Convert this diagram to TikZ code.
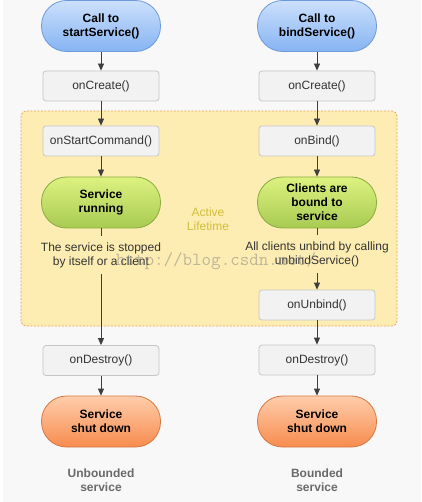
\documentclass[tikz,border=0pt]{standalone}
\usepackage{fontspec}
\setmainfont{Liberation Sans}
\usetikzlibrary{arrows.meta}
\definecolor{bg}{HTML}{F8F8F8}
\definecolor{boxfill}{HTML}{F2F2F2}
\definecolor{boxline}{HTML}{C6C6C6}
\definecolor{blueT}{HTML}{CCE0FC}
\definecolor{blueB}{HTML}{86B4F3}
\definecolor{blueE}{HTML}{6C9ADC}
\definecolor{greenT}{HTML}{DCF280}
\definecolor{greenB}{HTML}{A8CB52}
\definecolor{greenE}{HTML}{8AAB40}
\definecolor{orangeT}{HTML}{FFCDAB}
\definecolor{orangeB}{HTML}{F78C4E}
\definecolor{orangeE}{HTML}{D67842}
\definecolor{activeF}{HTML}{FEEDB2}
\definecolor{activeE}{HTML}{E4A460}
\definecolor{activeT}{HTML}{D2BE3C}
\definecolor{arrowc}{HTML}{3E3E3E}
\definecolor{note}{HTML}{333333}
\definecolor{kind}{HTML}{6A6A6A}
\tikzset{
  every picture/.style={line width=.8pt},
  txt/.style={font=\fontsize{12}{14}\selectfont,align=center},
  box/.style={txt,text=note,draw=boxline,fill=boxfill,rounded corners=3pt,
    minimum width=116pt,minimum height=30pt,inner sep=0pt},
  pill/.style n args={3}{txt,font=\fontsize{12}{14}\selectfont\bfseries,
    top color=#1,bottom color=#2,draw=#3,rounded corners=25pt,
    minimum width=119pt,minimum height=51pt,inner sep=0pt},
  blue pill/.style={pill={blueT}{blueB}{blueE}},
  green pill/.style={pill={greenT}{greenB}{greenE}},
  orange pill/.style={pill={orangeT}{orangeB}{orangeE}},
  flow/.style={draw=arrowc,-{Triangle[length=7pt,width=6pt]}},
  stub/.style={draw=arrowc},
}
\begin{document}
\begin{tikzpicture}[x=1pt,y=-1pt]
  \useasboundingbox (0,0) rectangle (421,502);
  \fill[white] (0,0) rectangle (421,502);
  \fill[bg] (3,0) rectangle (421,502);
  % active lifetime area
  \draw[activeE,fill=activeF,dash pattern=on 2pt off 1.5pt,rounded corners=5pt]
    (21,111) rectangle (397,326);
  \node[txt,text=activeT] (life) at (208,219) {Active\\Lifetime};

  % unbounded service
  \node[blue pill] (callS) at (101,26) {Call to\\startService()};
  \node[box] (createS) at (101,86) {onCreate()};
  \node[box] (startS) at (101,141) {onStartCommand()};
  \node[green pill] (runS) at (101,202.5) {Service\\running};
  \node[txt,text=note,inner sep=6pt] (stopS) at (101,255) {The service is stopped\\by itself or a client};
  \node[box] (destroyS) at (101,360.5) {onDestroy()};
  \node[orange pill] (downS) at (101,421.5) {Service\\shut down};
  \node[txt,font=\fontsize{12}{14}\selectfont\bfseries,text=kind] (kindS) at (101,480) {Unbounded\\service};

  % bounded service
  \node[blue pill] (callB) at (317,26) {Call to\\bindService()};
  \node[box] (createB) at (317,86) {onCreate()};
  \node[box] (bindB) at (317,141) {onBind()};
  \node[green pill] (boundB) at (317,202.5) {Clients are\\bound to\\service};
  \node[txt,text=note,inner sep=6pt] (unbindTxt) at (317,254) {All clients unbind by calling\\unbindService()};
  \node[box] (unbindB) at (317,305) {onUnbind()};
  \node[box] (destroyB) at (317,360) {onDestroy()};
  \node[orange pill] (downB) at (317,421.5) {Service\\shut down};
  \node[txt,font=\fontsize{12}{14}\selectfont\bfseries,text=kind] (kindB) at (317,480) {Bounded\\service};

  % connectors
  \draw[flow] (callS) -- (createS);
  \draw[flow] (createS) -- (startS);
  \draw[flow] (startS) -- (runS);
  \draw[stub] (runS) -- (stopS);
  \draw[flow] (stopS) -- (destroyS);
  \draw[flow] (destroyS) -- (downS);
  \draw[flow] (callB) -- (createB);
  \draw[flow] (createB) -- (bindB);
  \draw[flow] (bindB) -- (boundB);
  \draw[stub] (boundB) -- (unbindTxt);
  \draw[flow] (unbindTxt) -- (unbindB);
  \draw[flow] (unbindB) -- (destroyB);
  \draw[flow] (destroyB) -- (downB);

  % watermark
  \node[font=\ttfamily\fontsize{18.5}{19}\selectfont,text=gray,opacity=.5] (mark) at (216,261) {http://blog.csdn.net/};
\end{tikzpicture}
\end{document}
